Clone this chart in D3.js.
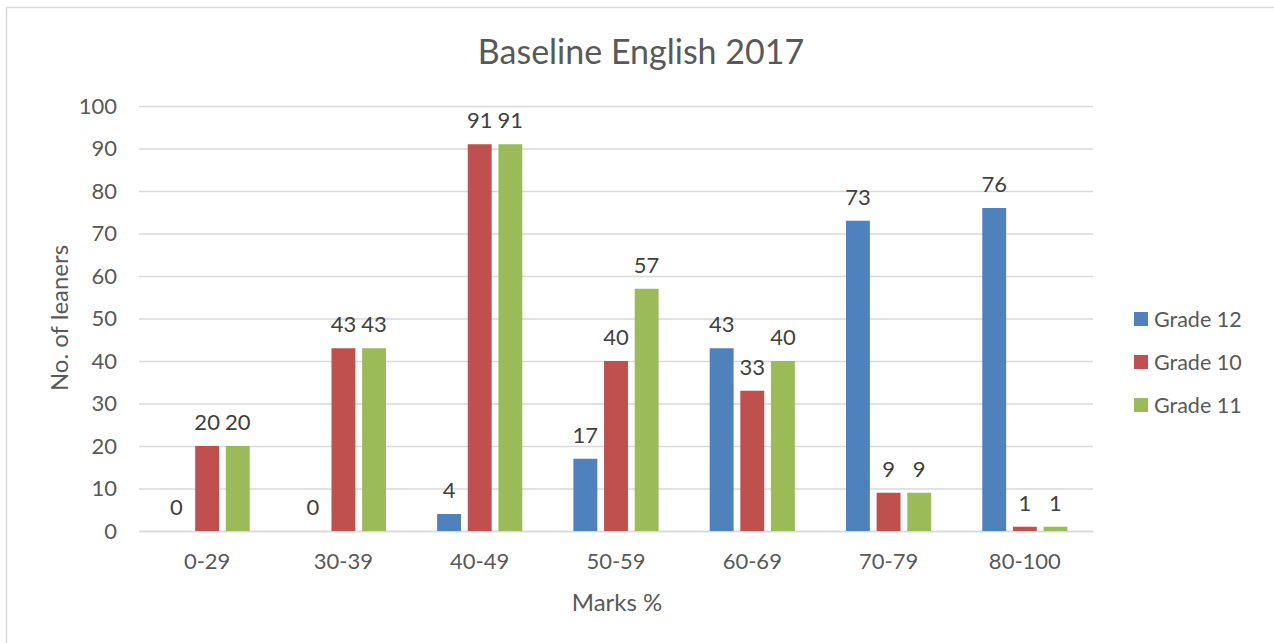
<!DOCTYPE html>
<html><head><meta charset="utf-8">
<script src="https://cdn.jsdelivr.net/npm/d3@7"></script>
<style>body{margin:0;background:#fff}svg{display:block}text{font-family:Lato,"Open Sans",sans-serif}</style>
</head><body>
<svg id="c" width="1274" height="643"></svg>
<script>
const categories = ["0-29","30-39","40-49","50-59","60-69","70-79","80-100"];
const seriesNames = ["Grade 12","Grade 10","Grade 11"];
const grade12 = [0,0,4,17,43,73,76];
const grade10 = [20,43,91,40,33,9,1];
const grade11 = [20,43,91,57,40,9,1];
const yTicks = [0,10,20,30,40,50,60,70,80,90,100];
const colors = ["#4f81bd","#c0504d","#9bbb59"];
const title = "Baseline English 2017";
const xTitle = "Marks %";
const yTitle = "No. of leaners";

const seriesValues = [grade12, grade10, grade11];
const svg = d3.select("#c");
const font = 'Lato,"Open Sans",sans-serif';

// frame
svg.append("rect").attr("x",6.5).attr("y",7.5).attr("width",1300).attr("height",700)
  .attr("fill","none").attr("stroke","#d9d9d9").attr("stroke-width",1.5);

const L=139, R=1093, T=106, B=531;
const x = d3.scaleBand().domain(categories).range([L,R]).paddingInner(0.375).paddingOuter(0.1875);
const xs = d3.scaleBand().domain(seriesNames).range([0,x.bandwidth()]).paddingInner(0.22);
const y = d3.scaleLinear().domain([0,100]).range([B,T]);

// gridlines
const yAxis = d3.axisLeft(y).tickValues(yTicks).tickSize(-(R-L)).tickPadding(20);
const gy = svg.append("g").attr("transform",`translate(${L},0)`).call(yAxis);
gy.select(".domain").remove();
gy.selectAll(".tick line").attr("stroke","#d9d9d9").attr("stroke-width",1.5);
gy.selectAll(".tick text").attr("fill","#595959").style("font-size","22px").style("font-family",font).attr("x",-22);

// x axis
const xAxis = d3.axisBottom(x).tickSize(0).tickPadding(22);
const gx = svg.append("g").attr("transform",`translate(0,${B})`).call(xAxis);
gx.select(".domain").attr("stroke","#d9d9d9").attr("stroke-width",1.5);
gx.selectAll(".tick text").attr("fill","#595959").style("font-size","22px").style("font-family",font);

// bars
const groups = svg.append("g").selectAll("g").data(categories).join("g")
  .attr("transform",d=>`translate(${x(d)},0)`);
seriesNames.forEach((s,si)=>{
  groups.append("rect")
    .attr("x",xs(s)).attr("width",xs.bandwidth())
    .attr("y",(d,i)=>y(seriesValues[si][i]))
    .attr("height",(d,i)=>B-y(seriesValues[si][i]))
    .attr("fill",colors[si]);
  groups.append("text")
    .attr("x",xs(s)+xs.bandwidth()/2)
    .attr("y",(d,i)=>y(seriesValues[si][i])-16)
    .attr("text-anchor","middle").attr("fill","#404040")
    .style("font-size","22px")
    .text((d,i)=>seriesValues[si][i]);
});

// titles
svg.append("text").attr("x",641).attr("y",64).attr("text-anchor","middle")
  .attr("fill","#595959").style("font-size","34px").text(title);
svg.append("text").attr("x",617).attr("y",611).attr("text-anchor","middle")
  .attr("fill","#595959").style("font-size","24px").text(xTitle);
svg.append("text").attr("transform","translate(68,318) rotate(-90)").attr("text-anchor","middle")
  .attr("fill","#595959").style("font-size","24px").text(yTitle);

// legend
const lg = svg.append("g").selectAll("g").data(seriesNames).join("g")
  .attr("transform",(d,i)=>`translate(1134,${319+i*43})`);
lg.append("rect").attr("x",0).attr("y",-7).attr("width",14).attr("height",14).attr("fill",(d,i)=>colors[i]);
lg.append("text").attr("x",20).attr("y",8).attr("fill","#595959").style("font-size","21.5px").text(d=>d);
</script>
</body></html>
